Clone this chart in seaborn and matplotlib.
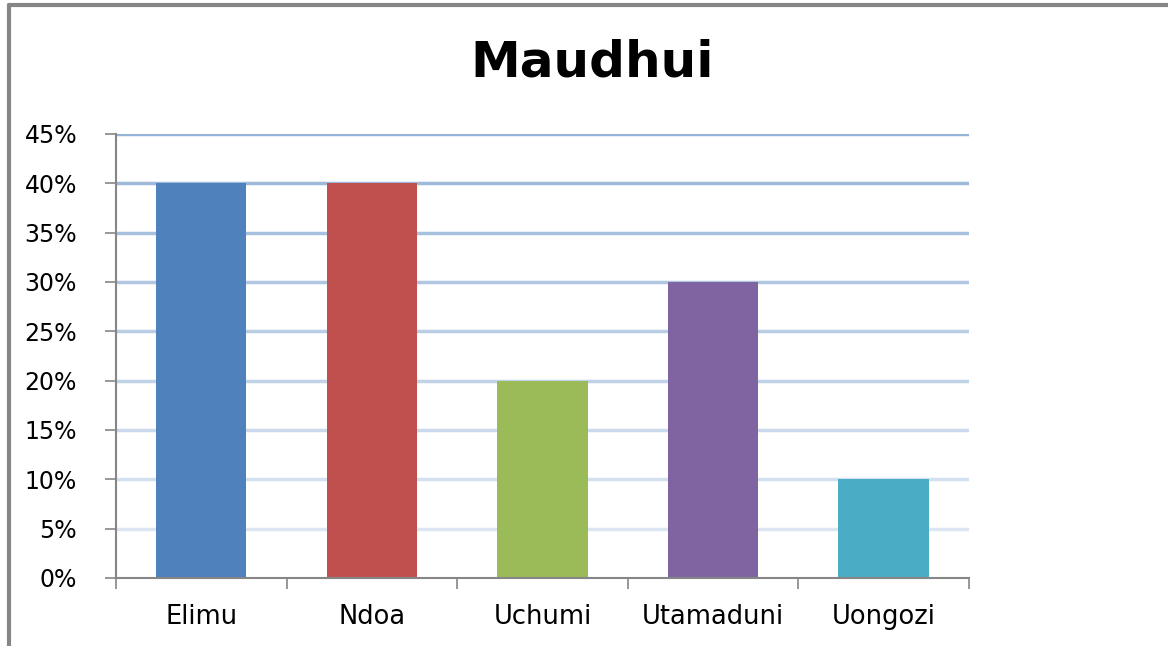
import matplotlib.pyplot as plt
import matplotlib.colors as mcolors
import seaborn as sns
import numpy as np
import pandas as pd

# Data
categories = ['Elimu', 'Ndoa', 'Uchumi', 'Utamaduni', 'Uongozi']
shares = [0.40, 0.40, 0.20, 0.30, 0.10]
bar_colors = ['#4F81BD', '#C0504D', '#9BBB59', '#8064A2', '#4BACC6']
y_ticks = [0.0, 0.05, 0.10, 0.15, 0.20, 0.25, 0.30, 0.35, 0.40, 0.45]
y_tick_labels = ['0%', '5%', '10%', '15%', '20%', '25%', '30%', '35%', '40%', '45%']

df = pd.DataFrame({'Maudhui': categories, 'Share': shares})

sns.set_style('white')
plt.rcParams['font.family'] = ['DejaVu Sans']

fig = plt.figure(figsize=(11.68, 6.46), dpi=100)
ax = fig.add_axes([0.0993, 0.1053, 0.7303, 0.6873])

sns.barplot(data=df, x='Maudhui', y='Share', hue='Maudhui',
            palette=bar_colors, legend=False, width=0.53,
            saturation=1, linewidth=0, ax=ax, zorder=3)

ax.set_ylim(0, 0.45)
ax.set_xlim(-0.5, len(categories) - 0.5)
ax.set_yticks(y_ticks)
ax.set_yticklabels(y_tick_labels, fontsize=17, color='black')
ax.set_xticks(range(len(categories)))
ax.set_xticklabels(categories, fontsize=18.5, color='black')
ax.set_xlabel('')
ax.set_ylabel('')

# gridlines fading from blue at the top to pale at the bottom
top_c = np.array(mcolors.to_rgb('#95B3D7'))
low_c = np.array(mcolors.to_rgb('#DCE6F2'))
for v in y_ticks[1:]:
    t = (v - 0.05) / 0.40
    c = low_c + (top_c - low_c) * t
    ax.axhline(v, color=c, linewidth=2.5, zorder=1)

for s in ['top', 'right']:
    ax.spines[s].set_visible(False)
for s in ['left', 'bottom']:
    ax.spines[s].set_color('#868686')
    ax.spines[s].set_linewidth(1.5)
    ax.spines[s].set_zorder(4)

ax.tick_params(axis='y', direction='out', length=8, width=1.2, color='#868686',
               pad=20, left=True)
ax.tick_params(axis='x', which='major', length=0, pad=19)
ax.set_xticks(np.arange(-0.5, len(categories), 1), minor=True)
ax.tick_params(axis='x', which='minor', direction='out', length=8, width=1.2,
               color='#868686', bottom=True)

fig.suptitle('Maudhui', fontsize=36, fontweight='bold', color='black',
             x=0.507, y=0.94)

# chart border
fig.add_artist(plt.Line2D([0.008, 0.008], [0, 0.992], color='#868686', linewidth=3,
                          transform=fig.transFigure))
fig.add_artist(plt.Line2D([0.008, 1.0], [0.992, 0.992], color='#868686', linewidth=3,
                          transform=fig.transFigure))

plt.savefig('out.png', dpi=100)
plt.close()
